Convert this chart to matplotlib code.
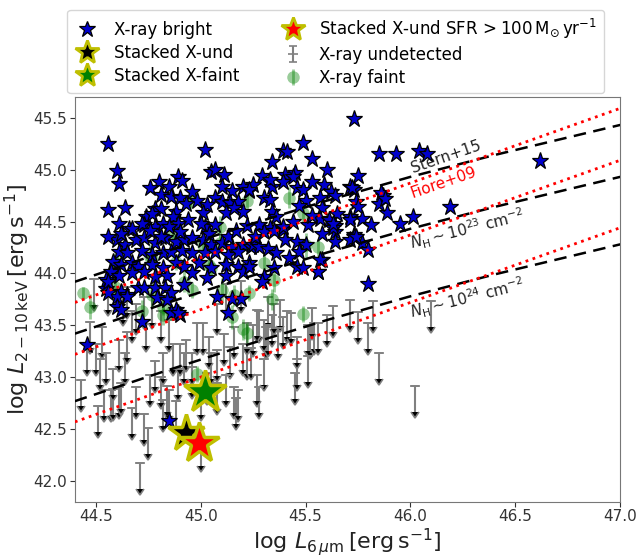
import matplotlib
matplotlib.use("Agg")
import matplotlib.pyplot as plt
from matplotlib.lines import Line2D
import numpy as np

# ---------------- DATA ----------------
# X-ray bright sources (blue stars)
bright_x = [44.56, 44.60, 44.61, 44.56, 44.64, 44.61, 44.66, 45.02, 45.05, 45.07, 45.11, 44.89,
            44.91, 44.80, 44.76, 44.85, 44.81, 44.86, 44.90, 44.96, 44.98, 45.10, 45.15, 45.20,
            45.23, 45.07, 45.10, 45.14, 45.18, 45.03, 44.78, 44.81, 44.74, 44.77, 44.88, 44.87,
            44.93, 45.01, 44.73, 44.78, 44.82, 44.94, 44.89, 45.02, 45.07, 45.12, 45.16, 45.20,
            45.73, 45.49, 45.39, 45.41, 45.53, 45.34, 45.60, 45.85, 45.93, 46.04, 46.08, 45.75,
            45.29, 45.40, 45.45, 45.44, 45.39, 45.34, 45.33, 45.53, 45.25, 45.23, 45.46, 45.49,
            45.59, 45.62, 45.64, 45.71, 45.73, 45.57, 45.50, 45.47, 45.30, 45.33, 45.34, 45.36,
            45.58, 45.65, 45.57, 45.61, 45.71, 45.74, 45.75, 45.77, 45.81, 45.89, 45.87, 45.85,
            45.95, 46.01, 45.51, 45.64, 45.64, 45.39, 45.33, 45.28, 45.73,
            46.62, 46.19, 45.86, 45.88, 45.72, 45.80, 45.56, 45.58, 45.73, 45.77, 45.80, 45.63,
            44.60, 44.64, 44.69, 44.73, 44.78, 44.83, 44.88, 44.92, 45.01, 45.05, 45.10, 45.15,
            45.20, 45.24,
            44.61, 44.65, 44.72, 44.77, 44.82, 44.86, 44.91, 44.96, 45.02, 45.07, 45.13, 45.18,
            44.58, 44.62, 44.67, 44.70, 44.77, 44.82, 44.88, 44.92, 44.99, 45.05, 45.12, 45.18,
            45.23,
            44.57, 44.61, 44.67, 44.73, 44.78, 44.84, 44.96, 45.03, 45.12, 45.20,
            45.46, 45.50, 45.47, 45.71, 45.57, 45.46, 45.49, 45.56, 45.30, 45.29, 45.25, 45.28,
            45.32, 45.23,
            44.70, 44.73, 44.78, 44.62, 44.60, 44.65, 44.60, 44.83, 44.86, 44.92, 45.08, 45.15,
            45.13, 44.88, 44.90, 44.72, 44.46,
            44.85, 44.86, 44.89, 45.19, 44.79, 44.84, 44.65, 44.62,
            44.56, 44.62, 44.67, 44.72, 44.76, 44.81, 44.85, 44.90, 44.96, 45.00, 45.04, 45.13,
            45.17, 45.22, 45.26, 45.30, 45.35, 45.39, 45.44, 45.53, 45.58, 45.63, 45.64, 45.71,
            45.74, 44.55, 44.55, 44.56, 44.56,
            45.36, 45.42, 45.40, 45.35]
bright_y = [45.25, 44.99, 44.86, 44.61, 44.63, 44.48, 44.43, 45.19, 44.98, 45.00, 44.95, 44.93,
            44.89, 44.88, 44.82, 44.83, 44.76, 44.74, 44.73, 44.78, 44.70, 44.83, 44.79, 44.83,
            44.79, 44.73, 44.69, 44.68, 44.69, 44.66, 44.62, 44.62, 44.54, 44.57, 44.59, 44.54,
            44.67, 44.58, 44.47, 44.45, 44.48, 44.51, 44.48, 44.45, 44.47, 44.58, 44.63, 44.59,
            45.49, 45.26, 45.18, 45.17, 45.10, 45.07, 45.00, 45.15, 45.15, 45.18, 45.15, 44.94,
            44.94, 44.95, 44.97, 44.93, 44.88, 44.83, 44.90, 44.88, 44.85, 44.80, 44.82, 44.80,
            44.85, 44.78, 44.75, 44.83, 44.80, 44.73, 44.70, 44.65, 44.73, 44.71, 44.59, 44.54,
            44.63, 44.57, 44.52, 44.51, 44.54, 44.69, 44.64, 44.52, 44.47, 44.58, 44.75, 44.67,
            44.48, 44.54, 44.47, 44.46, 44.40, 44.42, 44.44, 44.47, 44.37,
            45.08, 44.64, 44.77, 44.72, 44.82, 43.90, 44.01, 44.13, 44.35, 44.29, 44.23, 44.44,
            44.32, 44.27, 44.32, 44.34, 44.29, 44.34, 44.30, 44.32, 44.32, 44.27, 44.29, 44.25,
            44.27, 44.25,
            44.21, 44.20, 44.22, 44.18, 44.20, 44.21, 44.22, 44.20, 44.20, 44.21, 44.18, 44.21,
            44.11, 44.08, 44.10, 44.06, 44.08, 44.05, 44.10, 44.06, 44.10, 44.05, 44.08, 44.06,
            44.10,
            44.01, 43.98, 44.00, 44.01, 43.97, 43.98, 44.00, 43.96, 43.98, 44.01,
            44.30, 44.27, 44.21, 44.32, 44.13, 44.06, 44.05, 44.01, 43.97, 43.92, 44.27, 44.25,
            44.24, 44.06,
            43.86, 43.86, 43.86, 43.82, 43.77, 43.79, 43.68, 43.86, 43.81, 43.89, 43.77, 43.75,
            43.62, 43.65, 43.60, 43.53, 43.31,
            42.58, 43.62, 43.62, 43.75, 43.76, 43.74, 43.77, 43.65,
            44.35, 44.38, 44.43, 44.48, 44.41, 44.35, 44.45, 44.40, 44.34, 44.48, 44.38, 44.35,
            44.41, 44.46, 44.35, 44.40, 44.41, 44.45, 44.50, 44.55, 44.38, 44.48, 44.30, 44.51,
            44.35, 43.94, 43.85, 43.92, 43.81,
            44.20, 44.15, 44.32, 44.05]

# X-ray faint sources (green circles with error bars)
faint_x = [45.42, 45.22, 45.49, 45.56, 45.50, 45.09, 45.09, 44.95, 44.87, 44.76, 44.60, 45.04,
           45.30, 45.35, 45.34, 45.49, 44.44, 44.47, 44.59, 44.77, 44.82, 44.72, 44.86, 44.82,
           45.05, 44.92, 44.96, 45.10, 45.16, 45.23, 45.20, 45.15, 45.01, 44.88, 44.77, 44.59,
           44.98, 45.22]
faint_y = [44.73, 44.70, 44.58, 44.25, 44.27, 44.45, 44.29, 44.70, 44.39, 44.16, 44.10, 44.08,
           44.10, 43.94, 43.75, 43.61, 43.81, 43.68, 43.87, 43.79, 43.68, 43.64, 43.63, 43.60,
           44.05, 43.92, 43.84, 43.84, 43.79, 43.81, 43.46, 43.58, 44.27, 44.11, 44.15, 44.08,
           43.03, 43.43]
faint_err = [0.10, 0.08, 0.10, 0.08, 0.12, 0.10, 0.08, 0.08, 0.10, 0.12, 0.10, 0.08,
             0.10, 0.12, 0.10, 0.08, 0.06, 0.12, 0.10, 0.12, 0.08, 0.10, 0.08, 0.10,
             0.08, 0.10, 0.08, 0.12, 0.10, 0.08, 0.10, 0.12, 0.10, 0.08, 0.10, 0.12,
             0.08, 0.10]

# X-ray undetected sources (upper limits)
und_x = [44.43, 44.46, 44.51, 44.52, 44.54, 44.57, 44.58, 44.61, 44.62, 44.64, 44.65, 44.67,
         44.69, 44.71, 44.73, 44.75, 44.76, 44.78, 44.81, 44.82, 44.84, 44.85, 44.88, 44.89,
         44.92, 44.93, 44.96, 45.00, 45.01, 45.04, 45.05, 45.08, 45.11, 45.12, 45.16, 45.17,
         45.18, 45.20, 45.22, 45.24, 45.27, 45.28, 45.30, 45.32, 45.35, 45.37, 45.45, 45.46,
         45.51, 45.51, 44.69, 44.74, 44.81, 44.85, 44.73, 44.65, 44.63, 44.82, 44.87, 44.90,
         44.96, 45.03, 45.08, 45.14, 45.16, 45.22, 45.25, 45.28, 45.31, 45.38, 45.41, 44.58,
         44.55, 44.50, 44.53, 44.47, 44.61, 44.67, 44.77, 44.98, 45.08, 45.12, 45.19, 45.00,
         45.27, 45.30, 45.32, 45.34, 45.39, 45.43, 45.46, 45.52, 45.54, 45.56, 45.60, 45.63,
         45.71, 45.75, 45.82, 45.80, 45.85, 45.53, 46.10, 46.02, 44.49, 44.56]
und_y = [42.97, 43.32, 42.72, 43.18, 42.88, 42.88, 42.89, 42.91, 42.94, 43.23, 43.44, 42.70,
         42.91, 42.17, 42.65, 42.51, 43.02, 43.16, 43.00, 42.78, 42.92, 42.88, 42.77, 43.08,
         43.23, 43.36, 43.23, 42.89, 43.52, 43.39, 43.23, 43.26, 43.42, 43.02, 42.91, 42.80,
         42.88, 43.32, 43.28, 43.28, 43.02, 42.91, 43.18, 43.77, 43.71, 43.47, 43.04, 43.18,
         43.20, 43.50, 43.71, 43.55, 43.64, 43.55, 43.77, 43.87, 43.80, 43.23, 43.32, 43.32,
         43.10, 43.04, 42.94, 43.29, 43.48, 43.52, 43.50, 43.64, 43.48, 43.74, 43.64, 43.08,
         43.23, 43.32, 43.48, 43.53, 43.36, 43.64, 43.77, 43.52, 43.71, 43.90, 43.93, 42.40,
         43.65, 43.55, 43.50, 43.60, 43.58, 43.62, 43.39, 43.48, 43.52, 43.52, 43.60, 43.69,
         43.74, 43.63, 43.73, 43.52, 43.23, 43.67, 43.73, 42.92, 43.95, 43.90]
und_len = 0.25

# stacked points
stack_und = (44.93, 42.46)
stack_faint = (45.02, 42.86)
stack_sfr = (44.99, 42.37)

# relations
rel_x = [44.4, 44.8, 45.2, 45.6, 46.0, 46.4, 47.0]
stern15 = [43.92, 44.19, 44.45, 44.70, 44.93, 45.14, 45.43]
stern15_nh23 = [43.42, 43.69, 43.95, 44.20, 44.43, 44.64, 44.93]
stern15_nh24 = [42.77, 43.04, 43.30, 43.55, 43.78, 43.99, 44.28]
fiore_x = [44.4, 47.0]
fiore09 = [43.72, 45.59]
fiore09_nh23 = [43.22, 45.09]
fiore09_nh24 = [42.57, 44.44]

SFR_LABEL = r'Stacked X-und SFR$\,>100\,{\rm M_{\odot}\,yr^{-1}}$'

# ---------------- PLOT ----------------
fig = plt.figure(figsize=(6.4, 5.57), dpi=100)
ax = fig.add_axes([0.117, 0.099, 0.852, 0.727])

# upper limits
eb = ax.errorbar(und_x, und_y, yerr=und_len, uplims=True, fmt='_', color='grey',
                 ecolor='grey', ms=7, mew=1.2, elinewidth=1.5, capsize=3, zorder=2)
for cl in eb[1]:
    cl.set_color('k')
    cl.set_markersize(5.5)

# X-ray faint
fb = ax.errorbar(faint_x, faint_y, yerr=faint_err, fmt='o', color='g', alpha=0.4, ms=9,
                 mew=0, elinewidth=2, zorder=3)

# X-ray bright
ax.plot(bright_x, bright_y, '*', color='mediumblue', mec='k', mew=0.9, ms=12.5, ls='none',
        zorder=4)

# relations
for yy in [stern15, stern15_nh23, stern15_nh24]:
    ax.plot(rel_x, yy, '--', color='k', lw=1.8, dashes=(5, 3), zorder=5)
for yy in [fiore09, fiore09_nh23, fiore09_nh24]:
    ax.plot(fiore_x, yy, ':', color='red', lw=2, zorder=5)

# stacks
ax.plot(*stack_und, '*', color='k', mec='y', mew=2.5, ms=28, zorder=6)
ax.plot(*stack_faint, '*', color='g', mec='y', mew=2.5, ms=32, zorder=6)
ax.plot(*stack_sfr, '*', color='red', mec='y', mew=2.5, ms=30, zorder=7)

# labels on lines
ax.text(46.17, 45.12, 'Stern+15', rotation=19, ha='center', va='center', fontsize=11,
        color='#222222')
ax.text(46.16, 44.88, 'Fiore+09', rotation=19, ha='center', va='center', fontsize=11,
        color='red')
ax.text(46.27, 44.42, r'$N_{\rm H}\sim10^{23}\ {\rm cm^{-2}}$', rotation=14, ha='center',
        va='center', fontsize=11, color='#222222')
ax.text(46.27, 43.76, r'$N_{\rm H}\sim10^{24}\ {\rm cm^{-2}}$', rotation=14, ha='center',
        va='center', fontsize=11, color='#222222')

ax.set_xlim(44.4, 47.0)
ax.set_ylim(41.8, 45.7)
ax.set_xticks([44.5, 45.0, 45.5, 46.0, 46.5, 47.0])
ax.set_yticks([42.0, 42.5, 43.0, 43.5, 44.0, 44.5, 45.0, 45.5])
ax.tick_params(labelsize=11, colors='#333333', pad=2)
for s in ax.spines.values():
    s.set_color('#777777')
ax.set_xlabel(r'$\log\,L_{6\,\mu{\rm m}}\,[{\rm erg\,s^{-1}}]$', fontsize=16, color='#222222',
              labelpad=1)
ax.set_ylabel(r'$\log\,L_{2-10\,{\rm keV}}\,[{\rm erg\,s^{-1}}]$', fontsize=16, color='#222222',
              labelpad=1)

# legend
h_bright = Line2D([], [], marker='*', color='mediumblue', mec='k', mew=0.9, ms=12, ls='none')
h_und = Line2D([], [], marker='*', color='k', mec='y', mew=2, ms=18, ls='none')
h_fst = Line2D([], [], marker='*', color='g', mec='y', mew=2, ms=18, ls='none')
h_sfr = Line2D([], [], marker='*', color='red', mec='y', mew=2, ms=18, ls='none')
handles = [h_bright, h_und, h_fst, h_sfr, eb, fb]
labels = ['X-ray bright', 'Stacked X-und', 'Stacked X-faint', SFR_LABEL,
          'X-ray undetected', 'X-ray faint']
fig.legend(handles, labels, loc='upper left', bbox_to_anchor=(0.092, 0.997), ncol=2,
           fontsize=12, handlelength=1.6, columnspacing=2.4, labelspacing=0.3,
           borderpad=0.4, handletextpad=0.8)

fig.savefig('out.png', dpi=100)
